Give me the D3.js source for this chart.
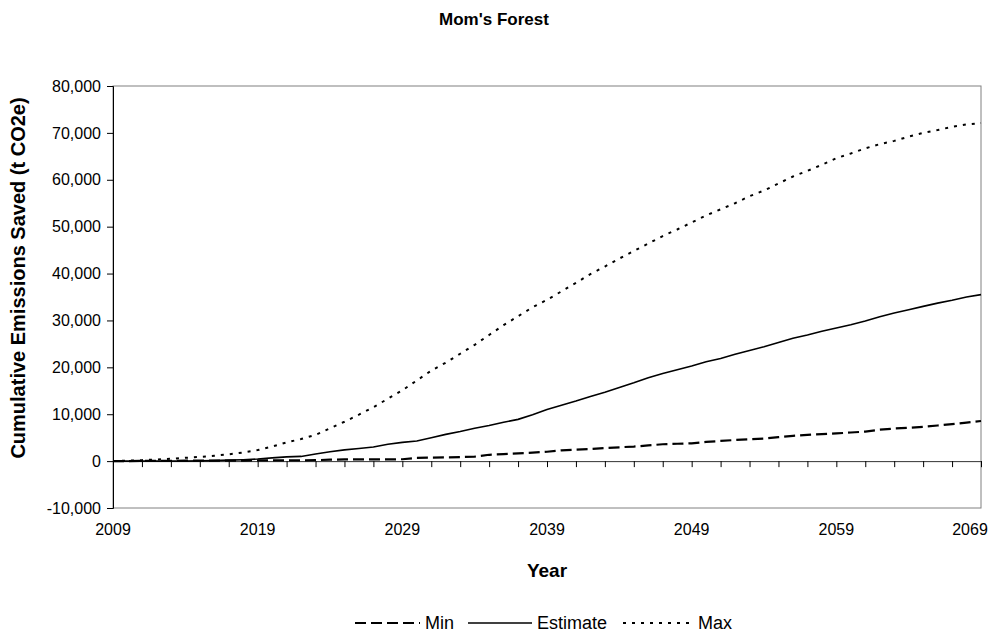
<!DOCTYPE html>
<html>
<head>
<meta charset="utf-8">
<script src="https://cdn.jsdelivr.net/npm/d3@7"></script>
<style>
  body { margin: 0; background: #fff; }
  text { font-family: "Liberation Sans", Arial, sans-serif; fill: #000; }
</style>
</head>
<body>
<svg id="chart" width="996" height="635"></svg>
<script>
// annual values, 2009..2069
const years = d3.range(2009, 2070);

const minValues = [
  0, 0, 50, 50, 50, 100, 100, 100, 100, 100,
  150, 150, 150, 150, 200, 300, 350, 350, 350, 350,
  400, 700, 750, 800, 850, 950, 1350, 1500, 1650, 1800,
  2000, 2300, 2450, 2600, 2800, 2950, 3100, 3350, 3600, 3700,
  3800, 4100, 4300, 4500, 4650, 4800, 5100, 5400, 5600, 5750,
  5900, 6100, 6300, 6700, 6950, 7100, 7300, 7600, 7900, 8200,
  8550
];

const estimateValues = [
  0, 0, 0, 0, 0, 0, 50, 100, 200, 300,
  450, 700, 900, 1000, 1500, 2000, 2400, 2700, 3000, 3600,
  4000, 4300, 5000, 5700, 6300, 7000, 7600, 8300, 8900, 9900,
  11000, 11900, 12800, 13800, 14700, 15700, 16700, 17800, 18700, 19500,
  20300, 21200, 21900, 22800, 23600, 24400, 25300, 26200, 26900, 27700,
  28400, 29100, 29900, 30800, 31600, 32300, 33000, 33700, 34300, 35000,
  35500
];

const maxValues = [
  0, 100, 200, 350, 500, 700, 900, 1150, 1450, 1850,
  2350, 3100, 4000, 4700, 5600, 7000, 8400, 9900, 11500, 13300,
  15100, 17200, 19300, 21000, 22900, 24800, 26900, 29000, 30900, 32800,
  34400, 36200, 38000, 39900, 41500, 43200, 44800, 46400, 48000, 49400,
  50900, 52400, 53700, 55000, 56500, 57700, 59200, 60700, 61900, 63200,
  64600, 65600, 66700, 67600, 68300, 69200, 70000, 70600, 71300, 71800,
  72100
];

const yTicks = d3.range(-10000, 80001, 10000);
const xTickYears = d3.range(2009, 2070, 2);
const xLabelYears = [2009, 2019, 2029, 2039, 2049, 2059, 2069];

const series = [
  { name: "Min", values: minValues, dash: "11,5", width: 2.2 },
  { name: "Estimate", values: estimateValues, dash: null, width: 1.6 },
  { name: "Max", values: maxValues, dash: "3,6", width: 2 }
];

const svg = d3.select("#chart");
const margin = { left: 113, right: 15, top: 86, bottom: 127 };
const W = 996, H = 635;

const x = d3.scaleLinear().domain([2009, 2069]).range([margin.left, W - margin.right]);
const y = d3.scaleLinear().domain([-10000, 80000]).range([H - margin.bottom, margin.top]);

// excel style numbers: plain hyphen for negatives
const fmt = d => (d < 0 ? "-" : "") + d3.format(",")(Math.abs(d));

// plot area frame
svg.append("rect")
  .attr("x", x(2009)).attr("y", y(80000))
  .attr("width", x(2069) - x(2009)).attr("height", y(-10000) - y(80000))
  .attr("fill", "none").attr("stroke", "#808080").attr("stroke-width", 1);

// y axis
const yAxis = d3.axisLeft(y).tickValues(yTicks).tickSize(6).tickPadding(6).tickFormat(fmt);
const gy = svg.append("g").attr("transform", `translate(${x(2009)},0)`).call(yAxis);
gy.select(".domain").attr("stroke", "#000");
gy.selectAll("text").style("font-size", "16px").attr("fill", "#000");

// x axis along zero line, ticks downward, labels at bottom
const xAxis = d3.axisBottom(x).tickValues(xTickYears).tickSize(6).tickFormat("");
const gx = svg.append("g").attr("transform", `translate(0,${y(0)})`).call(xAxis);
gx.select(".domain").attr("stroke", "#333");

svg.append("g").selectAll("text").data(xLabelYears).join("text")
  .attr("x", d => Math.min(x(d), W - 26)).attr("y", y(-10000) + 27)
  .attr("text-anchor", "middle").style("font-size", "16px")
  .text(d => d);

// lines
const line = d3.line().x((d, i) => x(years[i])).y(d => y(d));
series.forEach(s => {
  svg.append("path")
    .datum(s.values)
    .attr("d", line)
    .attr("fill", "none")
    .attr("stroke", "#000")
    .attr("stroke-width", s.width)
    .attr("stroke-dasharray", s.dash);
});

// titles
svg.append("text").attr("x", 494).attr("y", 25).attr("text-anchor", "middle")
  .style("font-size", "17px").style("font-weight", "bold").text("Mom's Forest");

svg.append("text").attr("x", 547).attr("y", 577).attr("text-anchor", "middle")
  .style("font-size", "19px").style("font-weight", "bold").text("Year");

svg.append("text")
  .attr("transform", "translate(25,278) rotate(-90)")
  .attr("text-anchor", "middle")
  .style("font-size", "20px").style("font-weight", "bold")
  .text("Cumulative Emissions Saved (t CO2e)");

// legend
const legendItems = [
  { s: series[0], x0: 355, x1: 420, tx: 425 },
  { s: series[1], x0: 468, x1: 532, tx: 537 },
  { s: series[2], x0: 623, x1: 693, tx: 698 }
];
const legendY = 623;
legendItems.forEach(it => {
  svg.append("line")
    .attr("x1", it.x0).attr("x2", it.x1).attr("y1", legendY).attr("y2", legendY)
    .attr("stroke", "#000").attr("stroke-width", it.s.width)
    .attr("stroke-dasharray", it.s.dash);
  svg.append("text").attr("x", it.tx).attr("y", legendY + 6)
    .style("font-size", "18px").text(it.s.name);
});
</script>
</body>
</html>
